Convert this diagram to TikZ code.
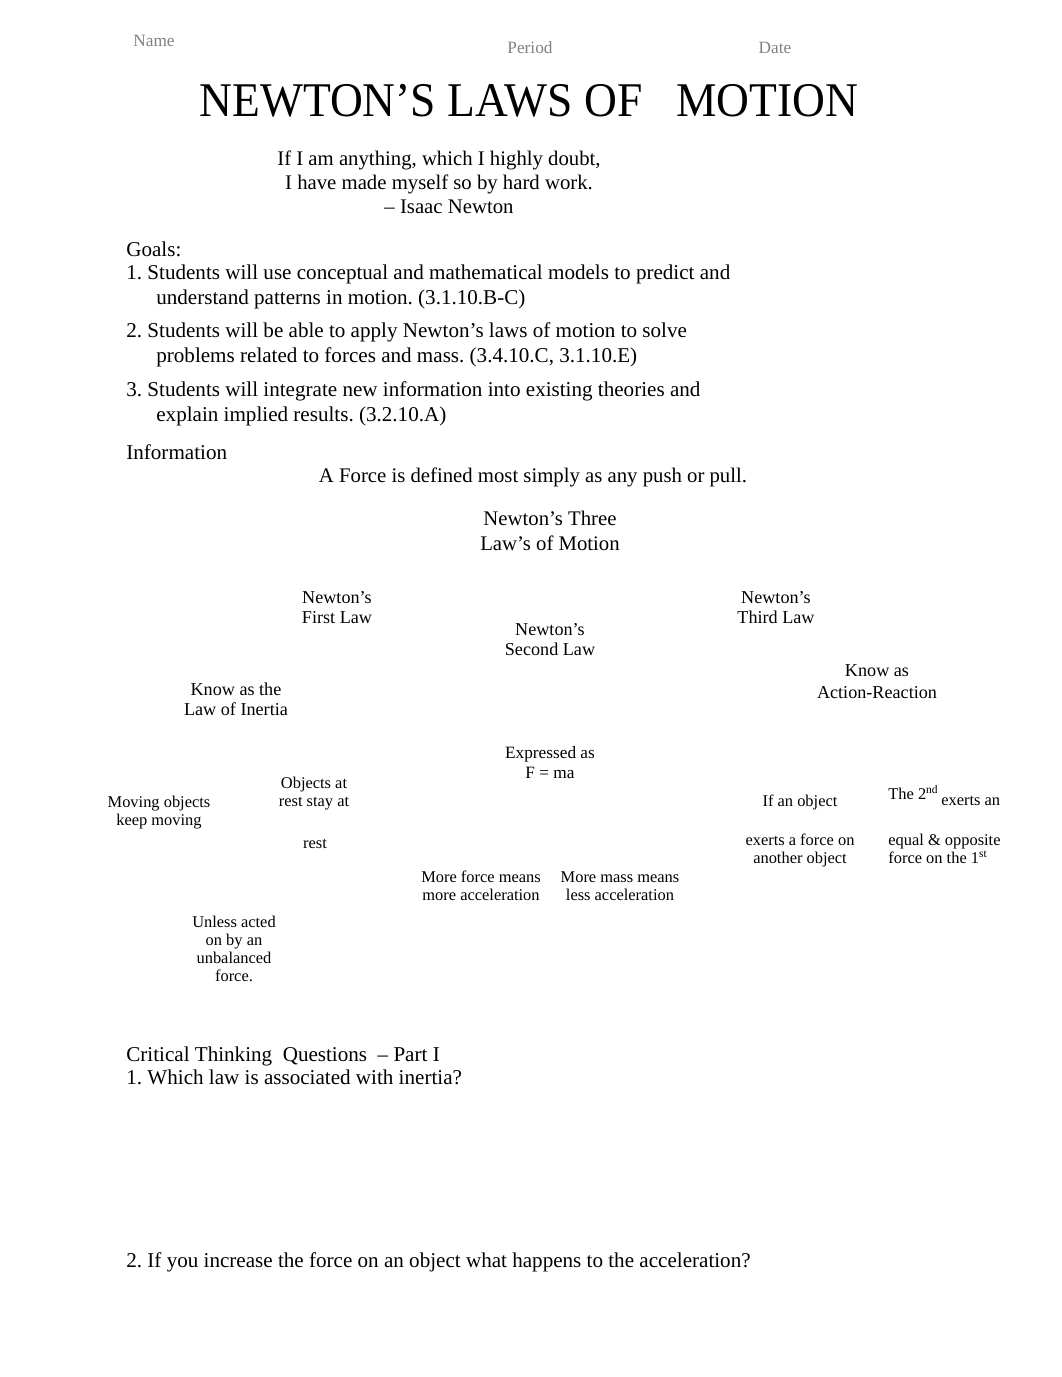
\documentclass[tikz,border=0pt]{standalone}
\usepackage{fontspec}
\setmainfont{Liberation Serif}
\newfontfamily\titlefont[FakeStretch=0.94]{Liberation Serif}
\frenchspacing

\begin{document}
\begin{tikzpicture}[x=0.5763bp,y=-0.5763bp,
  every node/.style={inner sep=0pt},
  head/.style={font=\fontsize{10}{12}\selectfont,text=black!50,anchor=mid,yshift=-1.8bp},
  body/.style={font=\fontsize{12.2}{14.4}\selectfont,anchor=mid west,yshift=-2.2bp},
  quote/.style={font=\fontsize{12}{14}\selectfont,anchor=mid,yshift=-2.2bp},
  law/.style={font=\fontsize{10.5}{11.6}\selectfont,align=center},
  fact/.style={font=\fontsize{9.5}{10.4}\selectfont,align=center}]
\useasboundingbox (0,0) rectangle (1062,1377);
% header
\node[head,anchor=mid west] (name) at (133,39) {Name};
\node[head] (period) at (530,46) {Period};
\node[head] (date) at (775,46) {Date};
\node[anchor=base,font=\titlefont\fontsize{28}{30}\selectfont] (title) at (529,117)
  {NEWTON’S LAWS OF\ \ \ MOTION};
% quote
\node[quote] (q1) at (439,158) {If I am anything, which I highly doubt,};
\node[quote] (q2) at (439,182) {I have made myself so by hard\ work.};
\node[quote] (q3) at (449,206) {– Isaac\ Newton};
% goals
\node[body] (goals) at (126,249) {Goals:};
\node[body] (g1a) at (126,272) {1. Students will use conceptual and mathematical models to predict and};
\node[body] (g1b) at (156,297) {understand patterns in motion. (3.1.10.B-C)};
\node[body] (g2a) at (126,330) {2. Students will be able to apply Newton’s laws of motion to solve};
\node[body] (g2b) at (156,355) {problems related to forces and mass. (3.4.10.C, 3.1.10.E)};
\node[body] (g3a) at (126,389) {3. Students will integrate new information into existing theories and};
\node[body] (g3b) at (156,414) {explain implied results. (3.2.10.A)};
% information
\node[body] (info) at (126,452) {Information};
\node[quote] (force) at (533,475) {A Force is defined most simply as any push or pull.};
\node[law,font=\fontsize{12}{14.4}\selectfont] (three) at (550,531) {Newton’s Three\\Law’s of Motion};
% the three laws
\node[law] (first) at (337,608) {Newton’s\\First Law};
\node[law] (second) at (550,640) {Newton’s\\Second Law};
\node[law] (third) at (776,608) {Newton’s\\Third Law};
\node[law] (inertia) at (236,699) {Know as the\\Law of Inertia};
\node[law,font=\fontsize{10.5}{12.6}\selectfont] (action) at (877,682) {Know as\\Action-Reaction};
\node[law,font=\fontsize{10}{11.5}\selectfont] (fma) at (550,763) {Expressed as\\F = ma};
% first law facts
\node[fact] (rest) at (314,794) {Objects at\\rest stay at};
\node[fact] (rest2) at (315,844) {rest};
\node[fact] (moving) at (159,813) {Moving objects\\keep moving};
\node[fact] (unless) at (234,949) {Unless acted\\on by an\\unbalanced\\force.};
% second law facts
\node[fact] (moreforce) at (481,886) {More force means\\more acceleration};
\node[fact] (moremass) at (620,886) {More mass means\\less acceleration};
% third law facts
\node[fact,anchor=mid] (obj) at (800,803) {If an object};
\node[fact] (exerts) at (800,850) {exerts a force on\\another object};
\node[fact,anchor=mid west] (second2) at (888,796) {The 2\textsuperscript{nd}\,\raisebox{-0.75ex}{exerts an}};
\node[fact,align=left,anchor=west] (equal) at (888,849) {equal \& opposite\\force on the 1\textsuperscript{st}};
% questions
\node[body] (ctq) at (126,1054) {Critical Thinking\ \ Questions\ \ – Part I};
\node[body] (ctq1) at (126,1077) {1. Which law is associated with inertia?};
\node[body] (ctq2) at (126,1260) {2. If you increase the force on an object what happens to the acceleration?};
\end{tikzpicture}
\end{document}
